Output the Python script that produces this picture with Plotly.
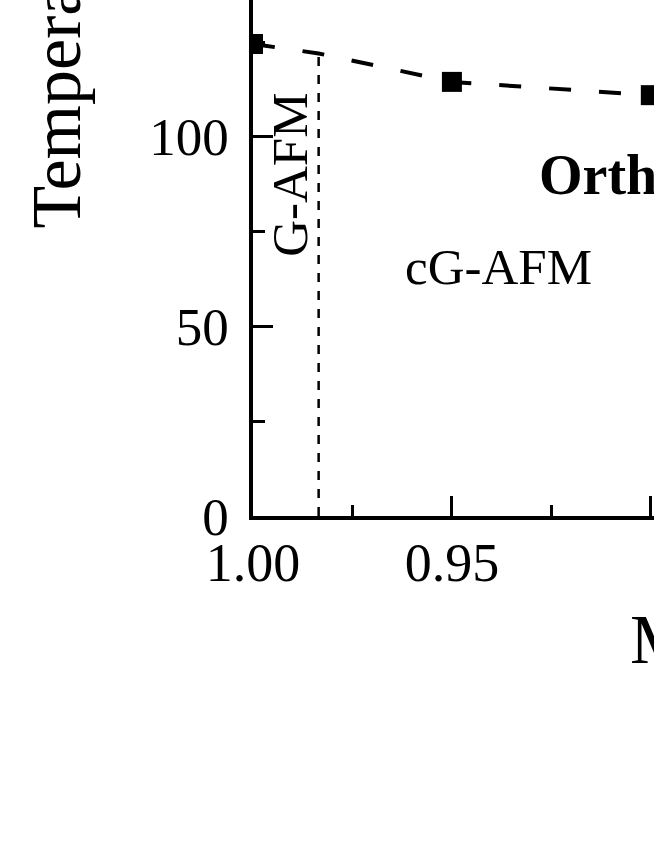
import plotly.graph_objects as go

# Data
tn_x = [1.00, 0.95, 0.90]          # composition of measured points
tn_y = [124.5, 114.5, 111.0]       # transition temperature (K)
curve_x = [1.00, 0.9835, 0.95, 0.90]
curve_y = [124.5, 122.0, 114.5, 111.0]
boundary_x = [0.9835, 0.9835]
boundary_y = [0.0, 122.0]

x_tickvals = [1.00, 0.95, 0.90]
x_ticktext = ["1.00", "0.95", "0.90"]
y_tickvals = [0, 50, 100]
y_ticktext = ["0", "50", "100"]

FONT = "Liberation Serif, Times New Roman, serif"

fig = go.Figure()
fig.add_trace(go.Scatter(x=curve_x, y=curve_y, mode="lines",
                         line=dict(color="black", width=4, dash="22px,28px"),
                         showlegend=False, hoverinfo="skip"))
fig.add_trace(go.Scatter(x=boundary_x, y=boundary_y, mode="lines",
                         line=dict(color="black", width=2.5, dash="9px,9px"),
                         showlegend=False, hoverinfo="skip"))
fig.add_trace(go.Scatter(x=tn_x, y=tn_y, mode="markers",
                         marker=dict(symbol="square", size=20, color="black"),
                         showlegend=False))

fig.update_layout(
    width=654, height=846,
    margin=dict(l=253, r=0, t=0, b=330, autoexpand=False),
    paper_bgcolor="white", plot_bgcolor="white",
    font=dict(family=FONT, color="black"),
    xaxis=dict(range=[1.0, 0.8992], showgrid=False, zeroline=False,
               showline=True, linecolor="black", linewidth=3.5,
               ticks="inside", ticklen=20, tickwidth=3, tickcolor="black",
               tickvals=x_tickvals, ticktext=x_ticktext,
               tickfont=dict(family=FONT, size=54, color="black"),
               ticklabelstandoff=-4,
               minor=dict(ticks="inside", ticklen=11, tickwidth=3,
                          tickcolor="black", dtick=0.025, showgrid=False),
               automargin=False),
    yaxis=dict(range=[0, 136.1], showgrid=False, zeroline=False,
               showline=True, linecolor="black", linewidth=3.5,
               ticks="inside", ticklen=20, tickwidth=3, tickcolor="black",
               tickvals=y_tickvals, ticktext=y_ticktext,
               tickfont=dict(family=FONT, size=53, color="black"),
               ticklabelstandoff=10,
               minor=dict(ticks="inside", ticklen=12, tickwidth=3,
                          tickcolor="black", dtick=25, showgrid=False),
               automargin=False),
)

annotations = [
    dict(text="G-AFM", x=0.9907, y=90, xref="x", yref="y", textangle=-90,
         showarrow=False, font=dict(family=FONT, size=51, color="black"),
         xanchor="center", yanchor="middle"),
    dict(text="cG-AFM", x=0.9382, y=65.7, xref="x", yref="y",
         showarrow=False, font=dict(family=FONT, size=51, color="black"),
         xanchor="center", yanchor="middle"),
    dict(text="<b>Orthorhombic</b>", x=0.9286, y=90, xref="x", yref="y",
         showarrow=False, font=dict(family=FONT, size=56, color="black"),
         xanchor="left", yanchor="middle"),
    dict(text="Temperature (K)", x=-0.489, y=(516 - 230) / 516,
         xref="paper", yref="paper", textangle=-90, showarrow=False,
         font=dict(family=FONT, size=70, color="black"),
         xanchor="center", yanchor="bottom"),
    dict(text="Mn content", x=0.935, y=-0.240, xref="paper", yref="paper",
         showarrow=False, font=dict(family=FONT, size=70, color="black"),
         xanchor="left", yanchor="middle"),
]
fig.update_layout(annotations=annotations)

fig.write_html("out.html",
               config={"displayModeBar": False},
               post_script="document.body.style.margin='0';document.body.style.padding='0';")
